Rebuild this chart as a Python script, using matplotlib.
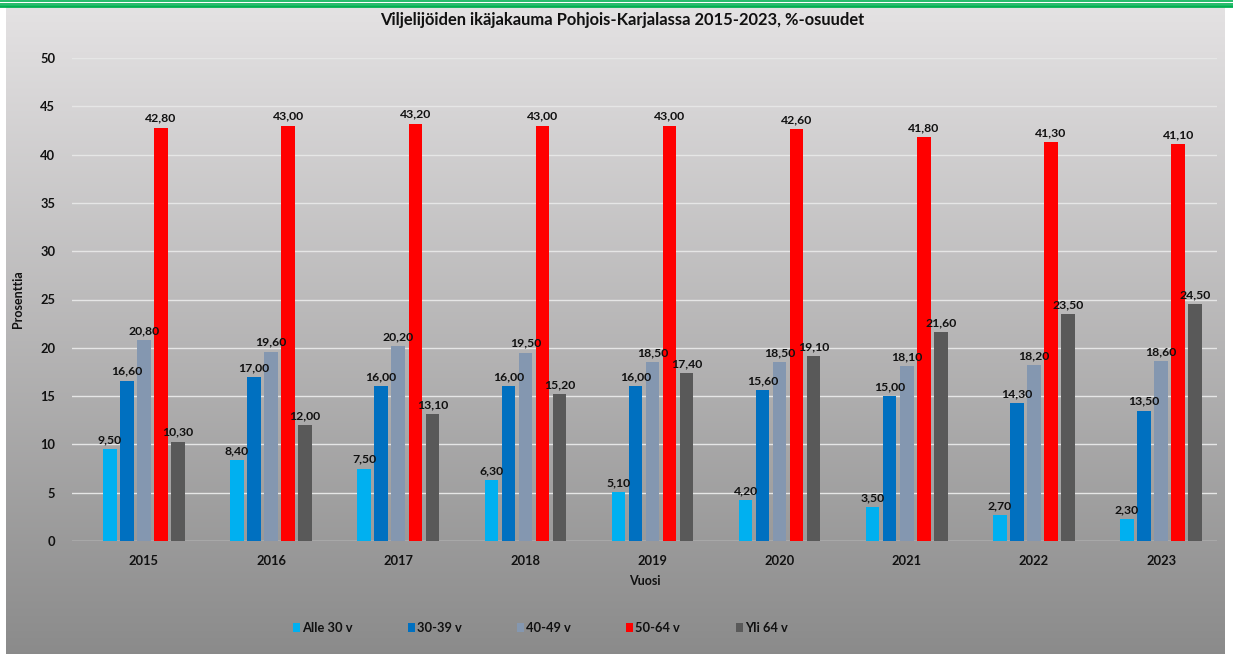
import numpy as np
import matplotlib.pyplot as plt
from matplotlib.lines import Line2D

plt.rcParams['font.family'] = ['Lato', 'DejaVu Sans']

years = ['2015', '2016', '2017', '2018', '2019', '2020', '2021', '2022', '2023']
series_names = ['Alle 30 v', '30-39 v', '40-49 v', '50-64 v', 'Yli 64 v']
alle_30 = [9.5, 8.4, 7.5, 6.3, 5.1, 4.2, 3.5, 2.7, 2.3]
v30_39 = [16.6, 17.0, 16.0, 16.0, 16.0, 15.6, 15.0, 14.3, 13.5]
v40_49 = [20.8, 19.6, 20.2, 19.5, 18.5, 18.5, 18.1, 18.2, 18.6]
v50_64 = [42.8, 43.0, 43.2, 43.0, 43.0, 42.6, 41.8, 41.3, 41.1]
yli_64 = [10.3, 12.0, 13.1, 15.2, 17.4, 19.1, 21.6, 23.5, 24.5]
colors = ['#00b0f0', '#0070c0', '#8497b0', '#ff0000', '#595959']

W, H = 1233, 654
fig = plt.figure(figsize=(W / 100, H / 100), dpi=100)
fig.patch.set_facecolor('white')

# grey gradient panel behind the chart
bg = fig.add_axes([6 / W, 0, (1225 - 6) / W, 1 - 7 / H], zorder=-10)
grad = np.linspace(0, 1, 256).reshape(-1, 1)
top = np.array([0.894, 0.886, 0.890])
bot = np.array([0.545, 0.545, 0.545])
img = top[None, None, :] * (1 - grad[..., None]) + bot[None, None, :] * grad[..., None]
bg.imshow(img, aspect='auto', extent=[0, 1, 0, 1])
bg.axis('off')

# green stripes along the top edge
for y, lw in [(1.0, 1.2), (3.5, 1.2), (6.0, 2.0)]:
    fig.add_artist(Line2D([0, 1], [1 - y / H, 1 - y / H], color='#00b050',
                          lw=lw, transform=fig.transFigure))

ax = fig.add_axes([72 / W, 1 - 541 / H, (1217 - 72) / W, (541 - 58) / H])
ax.set_facecolor('none')

data = [alle_30, v30_39, v40_49, v50_64, yli_64]
x = np.arange(len(years))
step = 0.134
width = 0.106
for i, (vals, name, c) in enumerate(zip(data, series_names, colors)):
    pos = x + (i - 2) * step
    bars = ax.bar(pos, vals, width=width, color=c, label=name, zorder=3)
    for b, v in zip(bars, vals):
        ax.text(b.get_x() + b.get_width() / 2, v + 0.4,
                f'{v:.2f}'.replace('.', ','), ha='center', va='bottom',
                fontsize=8.8, fontweight='bold', color='#111111', zorder=4)

ax.set_xlim(-0.566, 8.44)
ax.set_ylim(0, 50)
ax.set_yticks(range(0, 51, 5))
ax.set_xticks(x)
ax.set_xticklabels(years)
ax.grid(axis='y', color='#e6e6e6', lw=1, zorder=0)
for s in ax.spines.values():
    s.set_visible(False)
ax.tick_params(length=0, labelsize=9.3, labelcolor='#111111')
ax.tick_params(axis='y', pad=12)
ax.tick_params(axis='x', pad=10)
for lab in ax.get_xticklabels() + ax.get_yticklabels():
    lab.set_fontweight('bold')

ax.set_xlabel('Vuosi', fontsize=9, fontweight='bold', color='#111111', labelpad=6)
ax.set_ylabel('Prosenttia', fontsize=9, fontweight='bold', color='#111111', labelpad=12)
fig.text(622 / W, 1 - 20 / H,
         'Viljelijöiden ikäjakauma Pohjois-Karjalassa 2015-2023, %-osuudet',
         ha='center', va='center', fontsize=11.9, fontweight='bold', color='#111111')

leg = fig.legend(loc='center', bbox_to_anchor=(540 / W, 1 - 628 / H), ncol=5,
                 frameon=False, handlelength=0.55, handleheight=0.7,
                 handletextpad=0.15, columnspacing=4.3,
                 prop={'size': 9.3, 'weight': 'bold'})
for t in leg.get_texts():
    t.set_color('#111111')

fig.savefig('out.png', dpi=100)
